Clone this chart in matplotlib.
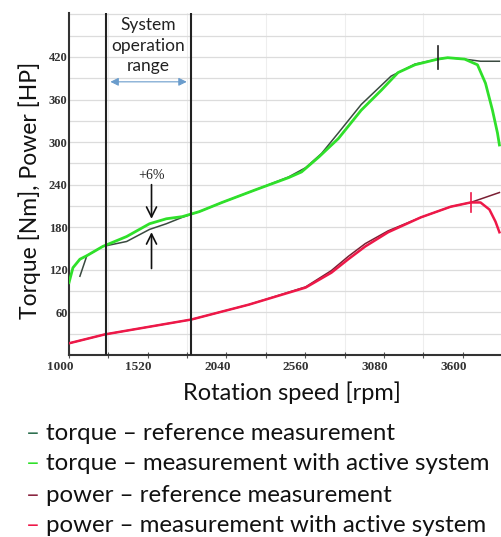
import matplotlib
matplotlib.use("Agg")
import matplotlib.pyplot as plt
from matplotlib.transforms import ScaledTranslation
import numpy as np

# ---------------- data ----------------
torque_active_rpm = [1000, 1026, 1072, 1118, 1223, 1381, 1532, 1643, 1748, 1860, 2011, 2234, 2451,
                     2536, 2650, 2779, 2930, 3062, 3173, 3285, 3436, 3501, 3613, 3698, 3751, 3797,
                     3830, 3843]
torque_active = [102, 123, 135, 140, 153, 167, 185, 192, 195, 202, 215, 233, 250,
                 258, 279, 305, 345, 373, 398, 409, 417, 419, 417, 409, 383, 345,
                 313, 296]

torque_ref_rpm = [1072, 1118, 1223, 1381, 1532, 1643, 1748, 1860, 2011, 2234, 2451, 2563,
                  2668, 2779, 2930, 3127, 3285, 3436, 3501, 3613, 3718, 3843]
torque_ref = [111, 140, 153, 160, 177, 185, 194, 202, 215, 233, 251, 264,
              284, 313, 353, 393, 410, 417, 419, 417, 414, 414]

power_active_rpm = [1000, 1236, 1808, 2188, 2563, 2733, 2845, 2957, 3108, 3324, 3521, 3587,
                    3653, 3718, 3777, 3817, 3843]
power_active = [16.5, 29, 50, 71, 95, 116, 135, 153, 173, 194, 209, 212,
                215, 215, 205, 188, 173]

power_ref_rpm = [1000, 1236, 1808, 2188, 2563, 2733, 2845, 2957, 3108, 3324, 3521, 3587,
                 3653, 3843]
power_ref = [16.5, 29, 50, 71, 96, 119, 139, 157, 175, 194, 209, 212,
             215, 229]

x_ticks = [1000, 1520, 2040, 2560, 3080, 3600]
y_ticks = [60, 120, 180, 240, 300, 360, 420]
range_bounds = [1243, 1808]

legend_labels = ["torque \u2013 reference measurement",
                 "torque \u2013 measurement with active system",
                 "power \u2013 reference measurement",
                 "power \u2013 measurement with active system"]

# ---------------- style ----------------
c_torque_act = "#2fe02a"
c_torque_ref = "#3a4a40"
c_power_act = "#ee1848"
c_power_ref = "#7a1f33"
legend_dash_colors = ["#2e7050", c_torque_act, "#8a2540", c_power_act]

W, H = 502, 537
fig = plt.figure(figsize=(W / 100, H / 100), dpi=100)
fig.patch.set_facecolor("white")
ax = fig.add_axes([69 / W, 1 - 355 / H, 433 / W, 342 / H])

ax.set_xlim(1000, 1000 + 433 / 0.1523)
ax.set_ylim(0, 482)

# grid
ax.set_yticks(np.arange(30, 482, 30), minor=True)
ax.set_xticks(np.arange(1000, 3900, 260), minor=True)
ax.grid(which="both", axis="y", color="#dcdcdc", lw=0.9)
ax.grid(which="minor", axis="x", color="#eeeeee", lw=0.8)
ax.set_axisbelow(True)

# curves
ax.plot(torque_ref_rpm, torque_ref, color=c_torque_ref, lw=1.1, zorder=3)
ax.plot(torque_active_rpm, torque_active, color=c_torque_act, lw=2.0, zorder=4)
ax.plot(power_ref_rpm, power_ref, color=c_power_ref, lw=1.1, zorder=3)
ax.plot(power_active_rpm, power_active, color=c_power_act, lw=1.8, zorder=4)

# peak markers
ax.plot([3436, 3436], [403, 435], color="#222222", lw=1.2, zorder=5)
ax.plot([3653, 3653], [201, 229], color=c_power_act, lw=1.2, zorder=5)

# operating range lines
for xb in range_bounds:
    ax.axvline(xb, color="#222222", lw=1.5, zorder=5)

ax.text(1522, 436, "System\noperation\nrange", ha="center", va="center",
        fontsize=12.5, family="Lato", color="#222222", linespacing=1.35, zorder=6)
ax.annotate("", xy=(range_bounds[0] + 12, 385), xytext=(range_bounds[1] - 12, 385),
            arrowprops=dict(arrowstyle="<|-|>", color="#6a9ccc", lw=0.8,
                            mutation_scale=12), zorder=6)

# +6% annotation
ax.text(1545, 253, "+6%", ha="center", va="center", fontsize=10,
        family="Liberation Serif", color="#222222", zorder=6)
ax.annotate("", xy=(1545, 188), xytext=(1545, 244),
            arrowprops=dict(arrowstyle="->", color="#111111", lw=1.2, mutation_scale=18), zorder=6)
ax.annotate("", xy=(1545, 177), xytext=(1545, 118),
            arrowprops=dict(arrowstyle="->", color="#111111", lw=1.2, mutation_scale=18), zorder=6)

# axes styling
for s in ["top", "right"]:
    ax.spines[s].set_visible(False)
ax.spines["left"].set_color("#333333")
ax.spines["bottom"].set_color("#333333")
ax.spines["left"].set_linewidth(1.5)
ax.spines["bottom"].set_linewidth(1.5)

ax.set_xticks(x_ticks)
ax.set_xticklabels([str(v) for v in x_ticks])
ax.set_yticks(y_ticks)
ax.set_yticklabels([str(v) for v in y_ticks])
ax.tick_params(axis="x", which="both", direction="inout", length=5, width=0.8,
               color="#555555", pad=2)
ax.tick_params(axis="y", which="both", length=0, pad=1)
for lab in ax.get_xticklabels():
    lab.set_fontfamily("Liberation Serif")
    lab.set_fontweight("bold")
    lab.set_fontsize(9.5)
    lab.set_color("#333333")
    lab.set_transform(lab.get_transform() + ScaledTranslation(-9 / 100, 0, fig.dpi_scale_trans))
for lab in ax.get_yticklabels():
    lab.set_fontfamily("Liberation Serif")
    lab.set_fontweight("bold")
    lab.set_fontsize(9)
    lab.set_color("#333333")

fig.text(292 / W, 1 - 393 / H, "Rotation speed [rpm]", ha="center", va="center",
         fontsize=17, family="Lato", color="#111111")
fig.text(30 / W, 1 - 190 / H, "Torque [Nm], Power [HP]", ha="center", va="center",
         rotation=90, fontsize=16.5, family="Lato", color="#111111")

# legend as text lines
ys = [433, 464, 495, 526]
for lab, col, yy in zip(legend_labels, legend_dash_colors, ys):
    fig.text(26 / W, 1 - yy / H, "\u2013", ha="left", va="center", fontsize=17.3,
             family="Lato", color=col)
    fig.text(46 / W, 1 - yy / H, lab, ha="left", va="center", fontsize=17.3,
             family="Lato", color="#111111")

fig.savefig("out.png", dpi=100)
